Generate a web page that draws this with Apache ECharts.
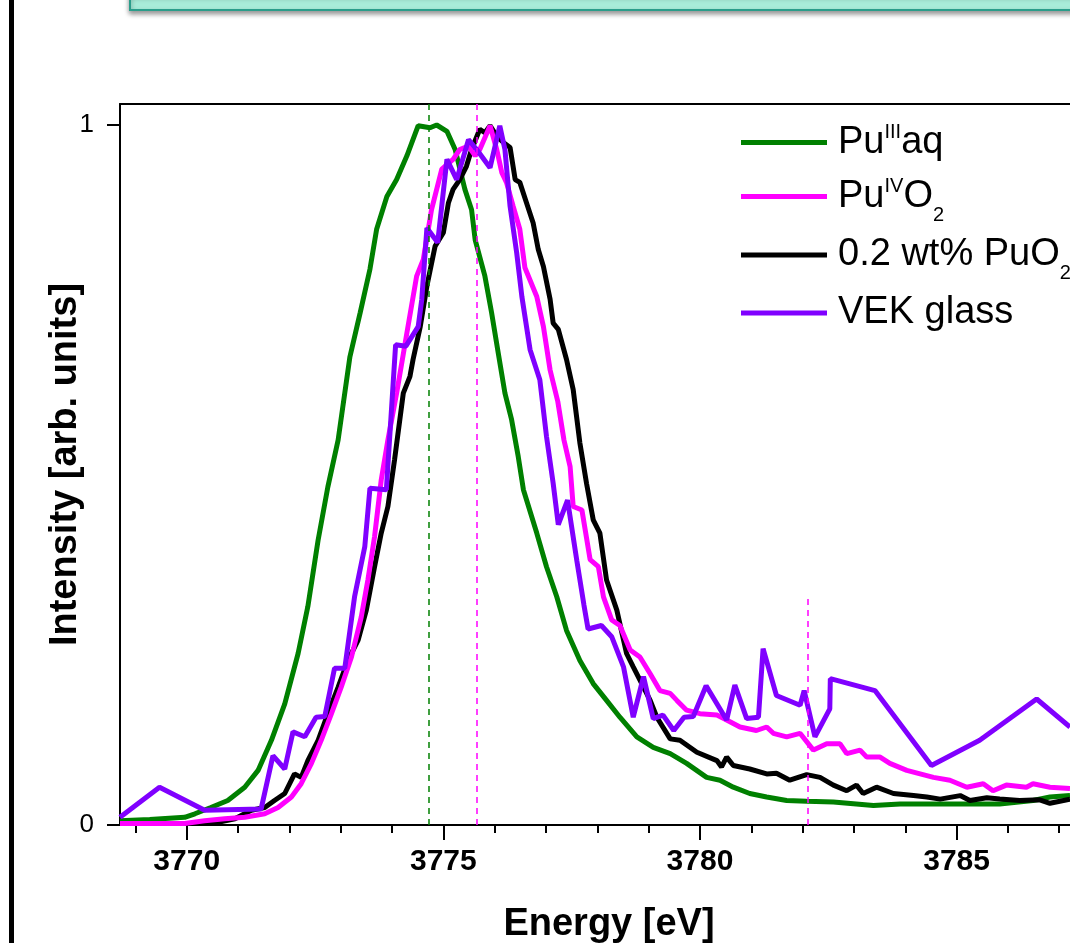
<!DOCTYPE html>
<html>
<head>
<meta charset="utf-8">
<title>Pu M5 edge HERFD</title>
<script src="https://cdn.jsdelivr.net/npm/echarts@6/dist/echarts.min.js"></script>
<style>
  html, body { margin: 0; padding: 0; background: #fff; }
  #chart { width: 1070px; height: 943px; }
</style>
</head>
<body>
<div id="chart"></div>
<script>
// --- data: [energy eV, normalised intensity] ---
const puIIIaq = [
  [3768.70,0.006],[3769.28,0.008],[3769.96,0.011],[3770.16,0.016],[3770.47,0.025],[3770.80,0.035],
  [3771.13,0.054],[3771.39,0.078],[3771.65,0.121],[3771.91,0.173],[3772.17,0.245],[3772.36,0.312],
  [3772.56,0.407],[3772.75,0.483],[3772.95,0.550],[3773.18,0.669],[3773.38,0.732],[3773.57,0.794],
  [3773.70,0.851],[3773.90,0.898],[3774.09,0.922],[3774.29,0.956],[3774.51,0.999],[3774.74,0.996],
  [3774.87,1.000],[3775.07,0.991],[3775.23,0.965],[3775.42,0.908],[3775.55,0.879],[3775.62,0.836],
  [3775.81,0.784],[3775.94,0.732],[3776.07,0.674],[3776.20,0.617],[3776.33,0.579],[3776.46,0.526],
  [3776.56,0.479],[3776.82,0.417],[3777.01,0.369],[3777.21,0.326],[3777.40,0.278],[3777.66,0.235],
  [3777.92,0.202],[3778.18,0.178],[3778.44,0.154],[3778.77,0.126],[3779.09,0.111],[3779.42,0.102],
  [3779.74,0.088],[3780.13,0.068],[3780.39,0.064],[3780.65,0.054],[3780.97,0.045],[3781.30,0.040],
  [3781.69,0.035],[3782.08,0.034],[3782.60,0.033],[3783.38,0.028],[3783.90,0.030],[3784.55,0.030],
  [3785.07,0.030],[3785.84,0.030],[3786.49,0.035],[3786.82,0.040],[3787.21,0.042]
];

const puIVO2 = [
  [3768.70,0.002],[3769.96,0.002],[3770.35,0.006],[3770.74,0.009],[3771.13,0.011],[3771.52,0.016],
  [3771.78,0.025],[3772.04,0.040],[3772.23,0.059],[3772.43,0.088],[3772.62,0.121],[3772.82,0.159],
  [3773.01,0.197],[3773.21,0.240],[3773.40,0.297],[3773.53,0.350],[3773.66,0.412],[3773.79,0.493],
  [3773.92,0.550],[3774.09,0.617],[3774.29,0.703],[3774.48,0.784],[3774.61,0.808],[3774.77,0.879],
  [3774.97,0.937],[3775.19,0.951],[3775.32,0.965],[3775.49,0.970],[3775.62,0.956],[3775.71,0.965],
  [3775.91,0.999],[3776.04,0.965],[3776.14,0.932],[3776.23,0.918],[3776.36,0.884],[3776.49,0.851],
  [3776.59,0.796],[3776.82,0.755],[3776.95,0.712],[3777.08,0.650],[3777.23,0.605],[3777.35,0.550],
  [3777.47,0.512],[3777.53,0.455],[3777.70,0.450],[3777.86,0.379],[3778.02,0.369],[3778.12,0.326],
  [3778.28,0.293],[3778.44,0.285],[3778.64,0.250],[3778.83,0.240],[3779.03,0.216],[3779.22,0.192],
  [3779.42,0.188],[3779.55,0.178],[3779.74,0.164],[3780.00,0.159],[3780.33,0.157],[3780.52,0.150],
  [3780.78,0.140],[3781.10,0.135],[3781.30,0.140],[3781.43,0.131],[3781.69,0.126],[3781.95,0.131],
  [3782.21,0.107],[3782.47,0.116],[3782.73,0.116],[3782.86,0.102],[3783.12,0.107],[3783.25,0.097],
  [3783.51,0.097],[3783.70,0.088],[3784.03,0.078],[3784.29,0.073],[3784.55,0.068],[3784.87,0.064],
  [3785.20,0.054],[3785.52,0.059],[3785.71,0.049],[3785.97,0.057],[3786.36,0.054],[3786.49,0.059],
  [3786.82,0.054],[3787.21,0.052]
];

const puO2glass = [
  [3768.70,0.002],[3770.28,0.002],[3770.61,0.004],[3770.94,0.009],[3771.26,0.021],[3771.52,0.025],
  [3771.71,0.035],[3771.91,0.045],[3772.10,0.073],[3772.23,0.068],[3772.36,0.092],[3772.56,0.121],
  [3772.75,0.159],[3772.95,0.197],[3773.14,0.235],[3773.34,0.264],[3773.50,0.307],[3773.66,0.369],
  [3773.79,0.417],[3773.92,0.455],[3774.05,0.522],[3774.22,0.617],[3774.35,0.641],[3774.41,0.665],
  [3774.55,0.712],[3774.68,0.770],[3774.84,0.827],[3775.00,0.846],[3775.10,0.889],[3775.19,0.908],
  [3775.32,0.922],[3775.45,0.941],[3775.55,0.965],[3775.71,0.994],[3775.81,0.989],[3775.91,0.999],
  [3776.04,0.984],[3776.17,0.975],[3776.30,0.968],[3776.40,0.922],[3776.49,0.918],[3776.62,0.889],
  [3776.75,0.860],[3776.85,0.822],[3776.95,0.798],[3777.08,0.751],[3777.14,0.717],[3777.24,0.708],
  [3777.40,0.665],[3777.53,0.622],[3777.66,0.546],[3777.79,0.488],[3777.92,0.436],[3778.05,0.417],
  [3778.18,0.350],[3778.38,0.307],[3778.57,0.245],[3778.70,0.226],[3778.90,0.197],[3779.03,0.178],
  [3779.16,0.154],[3779.42,0.123],[3779.61,0.121],[3779.94,0.104],[3780.33,0.092],[3780.42,0.083],
  [3780.52,0.097],[3780.65,0.085],[3780.97,0.080],[3781.30,0.073],[3781.49,0.074],[3781.75,0.064],
  [3782.08,0.072],[3782.34,0.068],[3782.60,0.057],[3782.86,0.049],[3783.05,0.057],[3783.18,0.045],
  [3783.44,0.054],[3783.77,0.045],[3784.16,0.042],[3784.42,0.040],[3784.68,0.037],[3785.07,0.042],
  [3785.26,0.035],[3785.59,0.039],[3785.84,0.037],[3786.23,0.035],[3786.62,0.036],[3786.82,0.031],
  [3787.21,0.037]
];

const vekGlass = [
  [3768.70,0.011],[3769.47,0.054],[3770.35,0.021],[3771.45,0.023],[3771.68,0.099],[3771.91,0.080],
  [3772.07,0.133],[3772.30,0.126],[3772.52,0.154],[3772.69,0.155],[3772.88,0.224],[3773.08,0.224],
  [3773.27,0.326],[3773.47,0.398],[3773.57,0.481],[3773.89,0.479],[3774.07,0.686],[3774.27,0.684],
  [3774.51,0.712],[3774.58,0.751],[3774.68,0.853],[3774.89,0.832],[3775.07,0.951],[3775.26,0.922],
  [3775.49,0.979],[3775.65,0.965],[3775.91,0.939],[3776.10,0.999],[3776.20,0.965],[3776.30,0.884],
  [3776.43,0.817],[3776.53,0.755],[3776.69,0.679],[3776.88,0.636],[3777.01,0.555],[3777.14,0.488],
  [3777.24,0.429],[3777.42,0.464],[3777.60,0.378],[3777.74,0.314],[3777.82,0.280],[3778.08,0.285],
  [3778.28,0.269],[3778.51,0.226],[3778.70,0.154],[3778.90,0.212],[3779.09,0.152],[3779.28,0.157],
  [3779.49,0.135],[3779.69,0.154],[3779.87,0.155],[3780.12,0.199],[3780.52,0.150],[3780.68,0.200],
  [3780.91,0.152],[3781.14,0.154],[3781.23,0.252],[3781.49,0.185],[3781.95,0.171],[3782.03,0.192],
  [3782.24,0.126],[3782.53,0.166],[3782.54,0.209],[3783.41,0.192],[3784.51,0.085],[3785.45,0.121],
  [3786.56,0.180],[3787.21,0.140]
];

// dashed reference energies
const markGreen = [3774.72];
const markMagenta = [3775.65, 3782.10];
const markMagentaTop = [1.03, 0.325];

// axis ticks
const majorTicks = [3770, 3775, 3780, 3785];
const minorTicks = [3769, 3771, 3772, 3773, 3774, 3776, 3777, 3778, 3779, 3781, 3782, 3783, 3784, 3786, 3787];
const yTicks = [0, 1];

const seriesNames = ['PuIIIaq', 'PuIVO2', '0.2 wt% PuO2', 'VEK glass'];
const legendLabels = {
  'PuIIIaq': '{n|Pu}{sup|III}{n|aq}',
  'PuIVO2': '{n|Pu}{sup|IV}{n|O}{sub|2}',
  '0.2 wt% PuO2': '{n|0.2 wt% PuO}{sub|2}',
  'VEK glass': '{n|VEK glass}'
};

const FONT = 'Liberation Sans, Arial, sans-serif';
const X_MIN = 3768.70;
const X_MAX = 3787.21;

const chart = echarts.init(document.getElementById('chart'));

// legend rows: tops picked so the line icons sit where the original has them
const legendTops = [122, 168, 226.5, 294];

const option = {
  backgroundColor: '#fff',
  animation: false,
  graphic: [
    {
      type: 'rect',
      shape: { x: 130, y: -6, width: 1000, height: 16 },
      style: {
        fill: '#a8ecd9', stroke: '#2a9d8a', lineWidth: 2,
        shadowBlur: 5, shadowOffsetY: 3, shadowColor: 'rgba(0,0,0,0.4)'
      },
      z: 10
    },
    {
      type: 'rect',
      shape: { x: 9, y: 0, width: 5, height: 943 },
      style: { fill: '#000' },
      z: 10
    }
  ],
  // outerBoundsMode none: keep the plot box exactly where it is, labels may sit near the edge
  grid: { left: 120, top: 104, right: 0, bottom: 118, outerBoundsMode: 'none' },
  legend: seriesNames.map((n, i) => ({
    data: [n],
    orient: 'vertical',
    left: 741,
    top: legendTops[i],
    padding: 0,
    icon: 'rect',
    itemWidth: 86,
    itemHeight: 5,
    selectedMode: false,
    formatter: (name) => legendLabels[name],
    textStyle: {
      fontFamily: FONT,
      fontSize: 38,
      color: '#000',
      padding: [0, 0, 0, 6],
      rich: {
        n: { fontFamily: FONT, fontSize: 38, lineHeight: 38, color: '#000', verticalAlign: 'middle' },
        sup: { fontFamily: FONT, fontSize: 20, lineHeight: 20, color: '#000', verticalAlign: 'middle', padding: [0, 0, 21, 0] },
        sub: { fontFamily: FONT, fontSize: 20, lineHeight: 20, color: '#000', verticalAlign: 'middle', padding: [37, 0, 0, 0] }
      }
    }
  })),
  xAxis: [
    {
      type: 'value',
      position: 'bottom',
      min: X_MIN,
      max: X_MAX,
      name: 'Energy [eV]',
      nameLocation: 'middle',
      nameGap: 81,
      nameTextStyle: { fontFamily: FONT, fontSize: 38, fontWeight: 'bold', color: '#000', padding: [0, 0, 0, 28] },
      axisLine: { show: true, onZero: false, lineStyle: { color: '#000', width: 2 } },
      axisTick: { show: true, inside: false, length: 15, customValues: majorTicks, lineStyle: { color: '#000', width: 2 } },
      axisLabel: {
        show: true, customValues: majorTicks, margin: 22,
        formatter: (v) => String(v),
        fontFamily: FONT, fontSize: 30, fontWeight: 'bold', color: '#000'
      },
      splitLine: { show: false }
    },
    {
      type: 'value',
      position: 'bottom',
      min: X_MIN,
      max: X_MAX,
      axisLine: { show: false },
      axisTick: { show: true, inside: false, length: 8, customValues: minorTicks, lineStyle: { color: '#000', width: 2 } },
      axisLabel: { show: false },
      splitLine: { show: false }
    },
    {
      // top frame line only
      type: 'value',
      position: 'top',
      min: X_MIN,
      max: X_MAX,
      axisLine: { show: true, onZero: false, lineStyle: { color: '#000', width: 2 } },
      axisTick: { show: false },
      axisLabel: { show: false },
      splitLine: { show: false }
    }
  ],
  yAxis: {
    type: 'value',
    min: 0,
    max: 1.03,
    name: 'Intensity [arb. units]',
    nameLocation: 'middle',
    nameGap: 35,
    nameMoveOverlap: false,
    nameRotate: 90,
    nameTextStyle: { fontFamily: FONT, fontSize: 38, fontWeight: 'bold', color: '#000' },
    axisLine: { show: true, onZero: false, lineStyle: { color: '#000', width: 2 } },
    axisTick: { show: true, inside: false, length: 13, customValues: yTicks, lineStyle: { color: '#000', width: 2 } },
    axisLabel: { customValues: yTicks, margin: 26, fontFamily: FONT, fontSize: 26, color: '#000' },
    splitLine: { show: false }
  },
  series: [
    {
      name: 'PuIIIaq',
      type: 'line',
      data: puIIIaq,
      showSymbol: false,
      lineStyle: { color: '#008000', width: 5 },
      itemStyle: { color: '#008000' },
      markLine: {
        silent: true,
        symbol: 'none',
        label: { show: false },
        lineStyle: { color: '#008000', type: [6, 5], width: 1.5 },
        data: markGreen.map(e => [{ coord: [e, 0] }, { coord: [e, 1.03] }])
      }
    },
    {
      name: '0.2 wt% PuO2',
      type: 'line',
      data: puO2glass,
      showSymbol: false,
      lineStyle: { color: '#000000', width: 5 },
      itemStyle: { color: '#000000' }
    },
    {
      name: 'PuIVO2',
      type: 'line',
      data: puIVO2,
      showSymbol: false,
      lineStyle: { color: '#ff00ff', width: 5 },
      itemStyle: { color: '#ff00ff' },
      markLine: {
        silent: true,
        symbol: 'none',
        label: { show: false },
        lineStyle: { color: '#ff00ff', type: [6, 5], width: 1.5 },
        data: markMagenta.map((e, i) => [{ coord: [e, 0] }, { coord: [e, markMagentaTop[i]] }])
      }
    },
    {
      name: 'VEK glass',
      type: 'line',
      data: vekGlass,
      showSymbol: false,
      lineStyle: { color: '#8000ff', width: 5 },
      itemStyle: { color: '#8000ff' }
    }
  ]
};

chart.setOption(option);
</script>
</body>
</html>
